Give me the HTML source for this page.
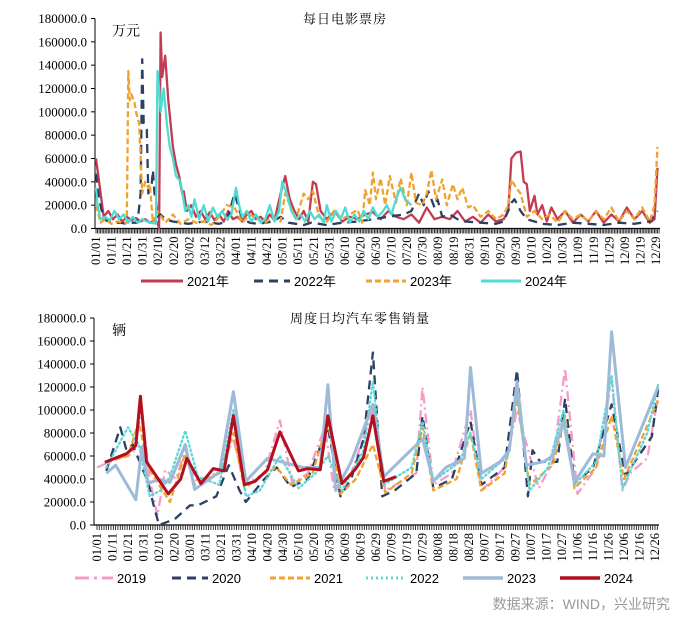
<!DOCTYPE html>
<html><head><meta charset="utf-8"><style>
html,body{margin:0;padding:0;background:#fff;}
svg{display:block;}
</style></head><body>
<svg id="chart" width="686" height="627" viewBox="0 0 686 627" xmlns="http://www.w3.org/2000/svg">
<g id="top"></g>
<g id="bot"></g>
<text x="670" y="609" text-anchor="end" font-family="'Liberation Sans','Noto Sans CJK SC',sans-serif" font-size="14" fill="#999">数据来源：WIND，兴业研究</text>
</svg>
<script>
// ---------- TOP CHART DATA (daily box office, 10k CNY) ----------
const topLabels=["01/01","01/11","01/21","01/31","02/10","02/20","03/02","03/12","03/22","04/01","04/11","04/21","05/01","05/11","05/21","05/31","06/10","06/20","06/30","07/10","07/20","07/30","08/09","08/19","08/31","09/10","09/20","09/30","10/10","10/20","10/30","11/09","11/19","11/29","12/09","12/19","12/29"];
const yTicks=[0,20000,40000,60000,80000,100000,120000,140000,160000,180000];
const bo2021Days=[0,2,5,8,11,14,17,20,23,26,29,32,35,38,40,41,42,43,45,47,50,52,54,56,57,59,62,65,68,71,74,77,80,83,86,89,92,95,98,101,104,107,110,113,116,120,123,126,129,132,135,138,141,143,146,150,155,160,165,170,175,180,185,190,195,200,205,210,215,220,225,230,235,240,245,250,255,260,265,268,270,273,276,278,280,282,285,287,290,293,296,300,305,310,315,320,325,330,335,340,345,350,355,360,363,365];
const bo2021Vals=[60,40,10,15,8,12,6,10,7,9,6,8,5,7,5,0,168,130,148,110,70,55,45,30,32,15,20,10,15,8,14,7,12,6,15,8,10,6,12,15,8,10,6,12,7,30,45,25,15,8,15,6,40,38,15,8,15,6,10,8,12,14,8,15,10,8,12,5,18,8,10,8,15,6,10,5,12,6,8,15,60,65,66,40,38,15,28,12,20,6,18,8,15,5,12,6,15,5,12,6,18,8,15,5,8,52];
const bo2022Days=[0,2,5,8,12,16,20,24,27,29,30,31,33,34,36,37,38,39,40,42,45,50,55,60,65,70,75,80,85,90,95,100,105,110,115,120,125,130,135,140,145,150,160,170,180,190,200,205,210,213,216,220,222,225,230,235,240,250,260,265,270,272,276,280,290,300,310,320,330,340,350,360,365];
const bo2022Vals=[47,25,8,6,5,5,4,5,5,30,145,90,85,30,35,50,30,25,10,12,8,6,5,4,5,6,5,4,6,30,8,5,4,5,6,10,5,4,3,5,4,3,5,6,8,10,12,15,30,20,32,18,25,10,12,8,6,5,4,6,22,25,15,8,4,3,5,4,3,5,4,6,15];
const bo2023Days=[0,3,6,10,14,18,20,21,22,23,25,26,28,30,32,34,35,37,40,45,50,55,60,65,70,75,80,85,90,95,100,105,110,115,120,123,126,130,135,138,141,145,150,155,160,165,170,173,175,178,180,182,185,188,191,195,198,202,205,208,212,215,218,221,225,228,232,235,238,242,245,250,255,260,265,268,270,273,276,280,285,290,295,300,305,310,315,320,325,330,335,340,345,350,355,360,363,365];
const bo2023Vals=[20,5,8,4,6,5,5,135,110,115,108,100,90,30,40,35,38,5,15,5,12,4,8,5,6,3,10,20,18,5,12,8,5,10,6,30,20,8,30,25,32,10,6,15,8,12,16,5,33,20,48,25,43,20,45,22,43,20,48,22,20,30,50,25,42,20,38,25,35,18,20,10,15,8,12,20,42,35,30,10,15,8,12,5,15,8,12,6,15,8,18,6,15,8,18,6,20,70];
const bo2024Days=[0,1,3,6,9,12,15,18,21,24,27,30,33,36,39,40,41,42,43,44,46,48,50,52,55,58,60,62,64,67,70,73,76,79,82,85,88,91,93,95,98,101,104,107,110,113,116,119,121,124,127,130,133,136,139,142,145,148,150,153,156,159,162,165,168,171,174,177,180,183,186,189,192,195,198,201,205];
const bo2024Vals=[35,20,8,10,7,15,8,12,5,10,5,8,6,5,4,135,120,100,110,120,90,70,60,45,40,15,20,10,25,8,20,6,18,10,15,8,12,35,20,10,15,6,12,5,8,20,6,15,40,30,15,8,12,6,15,8,12,5,20,6,15,8,18,5,12,6,15,8,18,10,14,20,12,25,35,25,20];

// ---------- BOTTOM CHART DATA (weekly avg car retail, units) ----------
const botLabels=["01/01","01/11","01/21","01/31","02/10","02/20","03/01","03/11","03/21","03/31","04/10","04/20","04/30","05/10","05/20","05/30","06/09","06/19","06/29","07/09","07/19","07/29","08/08","08/18","08/28","09/07","09/17","09/27","10/07","10/17","10/27","11/06","11/16","11/26","12/06","12/16","12/26"];
const car2019Days=[0,12,23,29,34,39,44,51,57,64,79,88,95,108,118,126,136,147,153,164,178,186,206,210,217,229,241,248,263,271,285,294,302,310,322,332,339,344,355,362];
const car2019Vals=[50,57,62,100,40,8,48,40,66,38,46,75,35,45,91,36,45,85,30,45,100,30,45,120,35,45,100,30,50,100,32,55,136,27,50,126,30,45,58,112];
const car2020Days=[6,15,19,23,29,33,36,40,50,60,65,77,85,92,96,108,116,125,136,149,157,164,172,178,184,192,206,210,217,229,241,248,263,271,278,281,286,297,302,308,320,332,341,358,362];
const car2020Vals=[47,85,65,70,50,37,20,0,5,17,17,25,52,30,20,40,50,33,40,85,25,40,75,150,25,30,45,95,32,40,90,35,50,135,25,65,55,55,110,36,50,105,43,77,118];
const car2021Days=[6,20,27,33,40,47,57,63,79,88,95,108,116,125,139,149,157,167,178,186,203,210,217,232,241,248,263,271,279,294,302,308,322,332,340,362];
const car2021Vals=[55,60,90,50,35,20,62,35,45,80,32,45,50,35,45,90,27,40,70,28,45,85,30,40,80,30,45,110,35,52,95,32,50,95,40,108];
const car2022Days=[6,20,27,34,41,47,57,65,79,88,96,105,118,130,141,149,158,172,178,185,203,210,217,234,241,248,265,271,279,291,301,308,322,332,339,355,362];
const car2022Vals=[50,85,70,25,30,42,82,42,35,100,25,30,60,32,45,60,30,65,125,35,50,90,38,55,80,40,60,115,30,50,100,35,55,130,32,80,122];
const car2023Days=[6,12,25,29,33,40,47,57,63,79,88,96,110,119,133,144,149,154,164,178,185,210,217,225,237,241,248,260,266,271,277,288,294,301,308,320,327,332,341,362];
const car2023Vals=[45,52,22,68,36,40,37,70,31,46,116,38,58,55,50,50,122,30,55,105,42,75,38,50,58,137,45,55,65,125,52,55,60,90,37,62,60,168,50,120];
const car2024Days=[5,19,25,28,32,46,54,58,67,75,82,88,95,102,110,118,130,136,144,149,158,167,172,178,185,193];
const car2024Vals=[54.5,62,69,112,55,27,40,58,36,49,47,95,35,38,48,81,47,49,48,95,36,49,59,95,38,42];

const NS="http://www.w3.org/2000/svg";
const SERIF="'Liberation Serif','Noto Serif CJK SC',serif";
function mk(parent,tag,attrs){const e=document.createElementNS(NS,tag);for(const k in attrs)e.setAttribute(k,attrs[k]);parent.appendChild(e);return e;}

function drawChart(g,cfg){
  const x0=cfg.x0,x1=cfg.x1,yb=cfg.yb,yt=cfg.yt;
  const xs=d=>x0+(d/cfg.maxDay)*(x1-x0);
  const ys=v=>yb-(v/180000)*(yb-yt);
  // y axis
  const ya=mk(g,'line',{x1:cfg.ax,y1:yt,x2:cfg.ax,y2:yb,stroke:'#000','stroke-width':1});
  
  
  yTicks.forEach(t=>{
    const tk=mk(g,'line',{x1:cfg.ax-4,y1:ys(t),x2:cfg.ax,y2:ys(t),stroke:'#000','stroke-width':1});
    
    
    const tl=mk(g,'text',{x:cfg.ax-8,y:ys(t)+4.5,'text-anchor':'end','font-family':SERIF,'font-size':13,fill:'#000'});
    tl.textContent=t.toFixed(1);
    
    
  });
  // x axis
  const xa=mk(g,'line',{x1:cfg.ax,y1:yb,x2:x1+4,y2:yb,stroke:'#000','stroke-width':1.2});
  
  
  let tp='';
  for(let d=0;d<=cfg.maxDay+2;d+=cfg.tickStep){const xx=xs(d).toFixed(1);tp+=`M${xx} ${yb}V${yb+5}`;}
  const tks=mk(g,'path',{d:tp,stroke:'#222','stroke-width':0.9});
  
  
  cfg.labels.forEach((lb,i)=>{
    const xx=x0+i*(x1-x0)/(cfg.labels.length-1);
    const t=mk(g,'text',{x:0,y:0,transform:`translate(${xx+4},${yb+8}) rotate(-90)`,'text-anchor':'end','font-family':SERIF,'font-size':12.5,fill:'#000'});
    t.textContent=lb;
    
    
  });
  // series
  cfg.series.forEach(s=>{
    let p='';
    s.days.forEach((d,i)=>{p+=(i?'L':'M')+xs(d).toFixed(1)+' '+ys(s.vals[i]*1000).toFixed(1);});
    const a={d:p,fill:'none',stroke:s.color,'stroke-width':s.w,'stroke-linejoin':'round'};
    if(s.dash)a['stroke-dasharray']=s.dash;
    if(s.cap)a['stroke-linecap']=s.cap;
    const pa=mk(g,'path',a);
    
    
  });
  // title & unit
  const ti=mk(g,'text',{x:cfg.titleX,y:yt+5,'text-anchor':'middle','font-family':"'Noto Serif CJK SC',serif",'font-size':13,fill:'#000','letter-spacing':'1'});
  ti.textContent=cfg.title;
  
  
  const un=mk(g,'text',{x:112,y:yt+17,'font-family':"'Noto Serif CJK SC',serif",'font-size':14,fill:'#000'});
  un.textContent=cfg.unit;
  
  
  // legend
  cfg.legend.forEach(L=>{
    const a={x1:L.x,y1:cfg.ly,x2:L.x+L.len,y2:cfg.ly,stroke:L.color,'stroke-width':L.w};
    if(L.dash)a['stroke-dasharray']=L.dash;
    const ln=mk(g,'line',a);
    
    
    const tx=mk(g,'text',{x:L.x+L.len+4,y:cfg.ly+5,'font-family':"'Liberation Sans','Noto Sans CJK SC',sans-serif",'font-size':13,fill:'#000'});
    tx.textContent=L.text;
    
    
  });
}

drawChart(document.getElementById('top'),{
  x0:96,x1:656,ax:95,yb:228.5,yt:18.5,maxDay:364,tickStep:1,labels:topLabels,
  title:'每日电影票房',titleX:345,unit:'万元',ly:281,
  series:[
    {name:'2021',days:bo2021Days,vals:bo2021Vals,color:'#c23b52',w:2.3},
    {name:'2022',days:bo2022Days,vals:bo2022Vals,color:'#2c4064',w:2.3,dash:'9 6'},
    {name:'2023',days:bo2023Days,vals:bo2023Vals,color:'#f0a22e',w:2.3,dash:'6 3'},
    {name:'2024',days:bo2024Days,vals:bo2024Vals,color:'#4fdbd2',w:2.3}
  ],
  legend:[
    {x:141,len:42,color:'#c23b52',w:3,text:'2021年'},
    {x:254,len:36,color:'#2c4064',w:3,dash:'9 6',text:'2022年'},
    {x:366,len:40,color:'#f0a22e',w:3,dash:'6 3',text:'2023年'},
    {x:481,len:40,color:'#4fdbd2',w:3,text:'2024年'}
  ]
});

drawChart(document.getElementById('bot'),{
  x0:97,x1:655,ax:94,yb:525,yt:318,maxDay:360,tickStep:1.5,labels:botLabels,
  title:'周度日均汽车零售销量',titleX:360,unit:'辆',ly:578,
  series:[
    {name:'2019',days:car2019Days,vals:car2019Vals,color:'#f49cc8',w:2.3,dash:'10 4 2 4'},
    {name:'2020',days:car2020Days,vals:car2020Vals,color:'#2c4064',w:2.3,dash:'9 6'},
    {name:'2021',days:car2021Days,vals:car2021Vals,color:'#f0a22e',w:2.3,dash:'6 3'},
    {name:'2022',days:car2022Days,vals:car2022Vals,color:'#5cd8d6',w:2.3,dash:'1.5 3',cap:'round'},
    {name:'2023',days:car2023Days,vals:car2023Vals,color:'#9dbad9',w:3},
    {name:'2024',days:car2024Days,vals:car2024Vals,color:'#b3101f',w:3}
  ],
  legend:[
    {x:75,len:38,color:'#f49cc8',w:3,dash:'14 5 3 5',text:'2019'},
    {x:172,len:36,color:'#2c4064',w:3,dash:'9 6',text:'2020'},
    {x:270,len:40,color:'#f0a22e',w:3,dash:'6 3',text:'2021'},
    {x:366,len:40,color:'#5cd8d6',w:3,dash:'2 3',text:'2022'},
    {x:463,len:40,color:'#9dbad9',w:3.5,text:'2023'},
    {x:560,len:40,color:'#b3101f',w:3.5,text:'2024'}
  ]
});
</script>
</body></html>
